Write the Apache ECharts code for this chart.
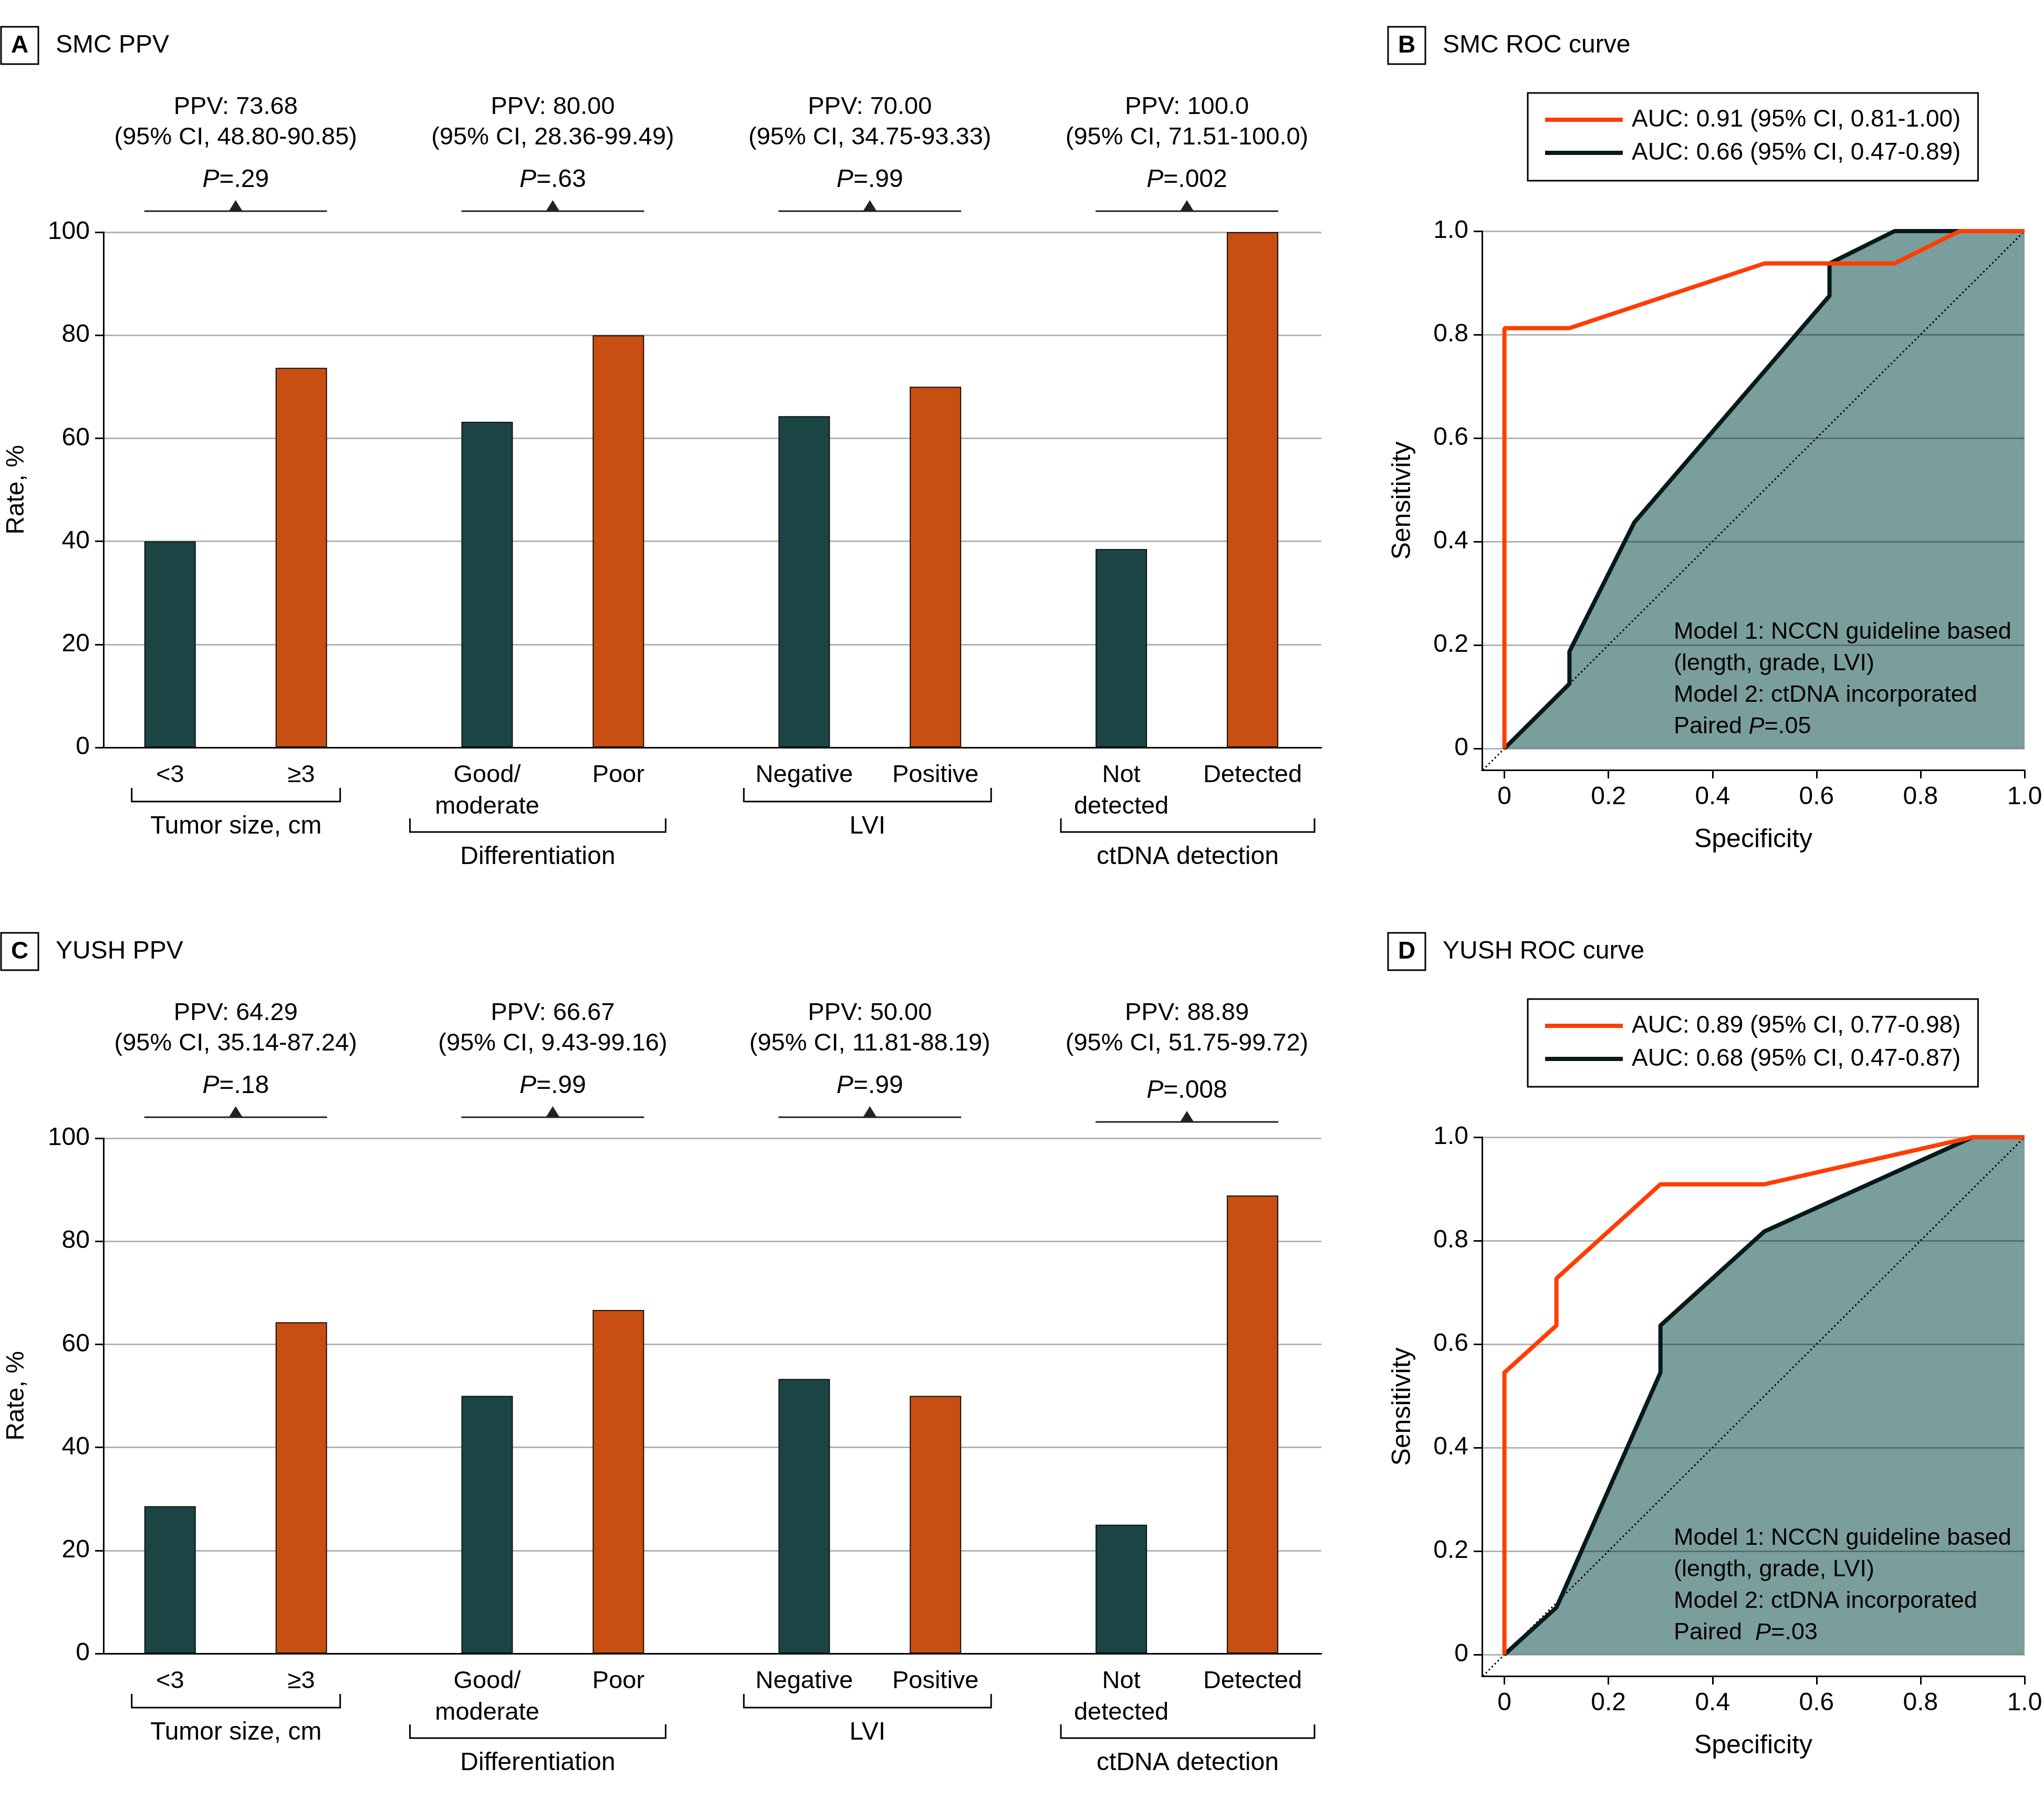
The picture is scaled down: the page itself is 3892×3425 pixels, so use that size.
<!DOCTYPE html>
<html>
<head>
<meta charset="utf-8">
<title>SMC / YUSH PPV and ROC curves</title>
<script src="https://cdn.jsdelivr.net/npm/echarts@6/dist/echarts.min.js"></script>
<style>
  html, body { margin: 0; padding: 0; background: #fff; }
  #chart { width: 3892px; height: 3425px; }
</style>
</head>
<body>
<div id="chart"></div>
<script>
// ---------- data ----------
const lowLabels = ['<3', 'Good/\nmoderate', 'Negative', 'Not\ndetected']
const highLabels = ['≥3', 'Poor', 'Positive', 'Detected']
const groupNames = ['Tumor size, cm', 'Differentiation', 'LVI', 'ctDNA detection']

const smcLow = [40.0, 63.2, 64.3, 38.5]
const smcHigh = [73.68, 80.0, 70.0, 100.0]
const smcPpv = ['73.68', '80.00', '70.00', '100.0']
const smcCi = ['48.80-90.85', '28.36-99.49', '34.75-93.33', '71.51-100.0']
const smcP = ['.29', '.63', '.99', '.002']

const yushLow = [28.6, 50.0, 53.3, 25.0]
const yushHigh = [64.29, 66.67, 50.0, 88.89]
const yushPpv = ['64.29', '66.67', '50.00', '88.89']
const yushCi = ['35.14-87.24', '9.43-99.16', '11.81-88.19', '51.75-99.72']
const yushP = ['.18', '.99', '.99', '.008']

const rocTicks = [0, 0.2, 0.4, 0.6, 0.8, 1.0]

// [specificity axis, sensitivity]
const smcModel1 = [[0, 0], [0.125, 0.125], [0.125, 0.1875], [0.25, 0.4375], [0.625, 0.875], [0.625, 0.9375], [0.75, 1], [1, 1]]
const smcModel2 = [[0, 0], [0, 0.8125], [0.125, 0.8125], [0.5, 0.9375], [0.75, 0.9375], [0.875, 1], [1, 1]]
const yushModel1 = [[0, 0], [0.1, 0.091], [0.3, 0.545], [0.3, 0.636], [0.5, 0.818], [0.9, 1], [1, 1]]
const yushModel2 = [[0, 0], [0, 0.545], [0.1, 0.636], [0.1, 0.727], [0.3, 0.909], [0.5, 0.909], [0.9, 1], [1, 1]]

const smcAuc = ['AUC: 0.91 (95% CI, 0.81-1.00)', 'AUC: 0.66 (95% CI, 0.47-0.89)']
const yushAuc = ['AUC: 0.89 (95% CI, 0.77-0.98)', 'AUC: 0.68 (95% CI, 0.47-0.87)']

// ---------- style / layout ----------
const FONT = '"Liberation Sans", Arial, sans-serif'
const DARK = '#1b4545'
const ORANGE = '#c84e11'
const ROC_ORANGE = '#ff3d00'
const ROC_DARK = '#061a19'
const ROC_FILL = '#7a9e9c'
const PANEL_DY = 1725
const BAR_W = 98
const BAR_GAP = 1.55
const BAR_OFF = BAR_W * (1 + BAR_GAP) / 2
const ROC_XMIN = -0.043
const ROC_YMIN = -0.0416
// bracket ends relative to the two bar centres of each group
const BRACKET_PAD = [[-73, 74], [-147, 90], [-115, 106], [-115, 118]]

const txt = (size, extra) => Object.assign({ fontSize: size, fontFamily: FONT, color: '#000' }, extra || {})

const barX = (gi) => ({
  type: 'value', gridIndex: gi, min: -0.417, max: 3.424, z: 3,
  axisLine: { show: true, lineStyle: { color: '#000', width: 3 } },
  axisTick: { show: false }, axisLabel: { show: false }, splitLine: { show: false }
})
const barY = (gi) => ({
  type: 'value', gridIndex: gi, min: 0, max: 100, interval: 20,
  name: 'Rate, %', nameLocation: 'middle', nameGap: 141, nameTextStyle: txt(48),
  axisLine: { show: true, onZero: false, lineStyle: { color: '#000', width: 3 } },
  axisTick: { show: true, length: 16, lineStyle: { color: '#000', width: 3 } },
  axisLabel: txt(48, { margin: 26 }),
  splitLine: { show: true, lineStyle: { color: '#b3b3b3', width: 3 } }
})
const rocLabel = (v) => (v === 0 ? '0' : v.toFixed(1))
const rocX = (gi) => ({
  type: 'value', gridIndex: gi, min: ROC_XMIN, max: 1, z: 2.5,
  name: 'Specificity', nameLocation: 'middle', nameGap: 108, nameTextStyle: txt(50),
  axisLine: { show: true, onZero: false, lineStyle: { color: '#000', width: 3 } },
  axisTick: { show: true, length: 16, customValues: rocTicks, lineStyle: { color: '#000', width: 3 } },
  axisLabel: txt(48, { margin: 28, customValues: rocTicks, formatter: rocLabel }),
  splitLine: { show: false }
})
const rocY = (gi) => ({
  type: 'value', gridIndex: gi, min: ROC_YMIN, max: 1, z: 2,
  name: 'Sensitivity', nameLocation: 'middle', nameGap: 126, nameTextStyle: txt(50),
  axisLine: { show: true, onZero: false, lineStyle: { color: '#000', width: 3 } },
  axisTick: { show: true, length: 16, customValues: rocTicks, lineStyle: { color: '#000', width: 3 } },
  axisLabel: txt(48, { margin: 26, customValues: rocTicks, formatter: rocLabel }),
  splitLine: { show: true, lineStyle: { color: 'rgba(0,0,0,0.3)', width: 3 } }
})

const barSeries = (ai, values, names, color) => ({
  type: 'bar', xAxisIndex: ai, yAxisIndex: ai,
  data: values.map((v, i) => [i, v]),
  barWidth: BAR_W, barGap: (BAR_GAP * 100) + '%',
  itemStyle: { color: color, borderColor: '#111', borderWidth: 2 },
  label: {
    show: true, position: 'bottom', distance: 23, lineHeight: 60,
    fontSize: 47, fontFamily: FONT, color: '#000',
    formatter: (p) => names[p.dataIndex]
  }
})
const rocSeries = (ai, model1, model2, auc) => [
  { type: 'line', name: 'fill' + ai, xAxisIndex: ai, yAxisIndex: ai, data: model1, symbol: 'none',
    lineStyle: { width: 0 }, areaStyle: { color: ROC_FILL, opacity: 1 }, z: 1, silent: true },
  { type: 'line', name: 'chance' + ai, xAxisIndex: ai, yAxisIndex: ai,
    data: [[ROC_YMIN, ROC_YMIN], [1, 1]], symbol: 'none',
    lineStyle: { color: '#000', width: 3, type: [3, 5] }, z: 3, silent: true },
  { type: 'line', name: auc[1], xAxisIndex: ai, yAxisIndex: ai, data: model1, symbol: 'none',
    itemStyle: { color: ROC_DARK }, lineStyle: { color: ROC_DARK, width: 8 }, z: 4 },
  { type: 'line', name: auc[0], xAxisIndex: ai, yAxisIndex: ai, data: model2, symbol: 'none',
    itemStyle: { color: ROC_ORANGE }, lineStyle: { color: ROC_ORANGE, width: 8 }, z: 5 }
]
const rocLegend = (top, names) => ({
  left: 2909, top: top, orient: 'vertical', selectedMode: false,
  data: names, icon: 'rect', itemWidth: 148, itemHeight: 8, itemGap: 17,
  padding: [28, 33, 30, 33], borderColor: '#000', borderWidth: 3,
  textStyle: txt(46, { padding: [0, 0, 0, 12] })
})

const chart = echarts.init(document.getElementById('chart'))
chart.setOption({
  animation: false,
  backgroundColor: '#fff',
  grid: [
    { left: 196, top: 442, width: 2320, height: 981 },
    { left: 2822, top: 440, width: 1033, height: 1026 },
    { left: 196, top: 442 + PANEL_DY, width: 2320, height: 981 },
    { left: 2822, top: 440 + PANEL_DY, width: 1033, height: 1026 }
  ],
  xAxis: [barX(0), rocX(1), barX(2), rocX(3)],
  yAxis: [barY(0), rocY(1), barY(2), rocY(3)],
  legend: [rocLegend(177, smcAuc), rocLegend(177 + PANEL_DY, yushAuc)],
  series: [
    barSeries(0, smcLow, lowLabels, DARK),
    barSeries(0, smcHigh, highLabels, ORANGE),
    barSeries(2, yushLow, lowLabels, DARK),
    barSeries(2, yushHigh, highLabels, ORANGE),
    ...rocSeries(1, smcModel1, smcModel2, smcAuc),
    ...rocSeries(3, yushModel1, yushModel2, yushAuc)
  ]
})

// ---------- annotations placed from the axes ----------
const els = []
const text = (x, y, str, size, extra) => els.push({
  type: 'text', x: x, y: y, z: 100,
  style: Object.assign({ text: str, fontSize: size, fontFamily: FONT, fill: '#000',
    align: 'center', verticalAlign: 'middle' }, extra || {})
})
const richP = (size) => ({
  n: { fontSize: size, fontFamily: FONT, fill: '#000' },
  i: { fontSize: size, fontFamily: FONT, fill: '#000', fontStyle: 'italic' }
})
const panelLabel = (x, y, letter, title) => {
  els.push({ type: 'rect', z: 100, shape: { x: x, y: y, width: 71, height: 71 },
    style: { fill: 'none', stroke: '#000', lineWidth: 3 } })
  text(x + 35.5, y + 36, letter, 46, { fontWeight: 'bold' })
  text(x + 104, y + 36, title, 48, { align: 'left' })
}

const barPanels = [
  { ai: 0, letter: 'A', title: 'SMC PPV', ppv: smcPpv, ci: smcCi, p: smcP, shift: [0, 0, 0, 0] },
  { ai: 2, letter: 'C', title: 'YUSH PPV', ppv: yushPpv, ci: yushCi, p: yushP, shift: [0, 0, 0, 9] }
]
barPanels.forEach((bp) => {
  const finder = { xAxisIndex: bp.ai, yAxisIndex: bp.ai }
  const yTop = chart.convertToPixel(finder, [0, 100])[1]
  const yBase = chart.convertToPixel(finder, [0, 0])[1]
  panelLabel(2, yTop - 391, bp.letter, bp.title)
  groupNames.forEach((gname, i) => {
    const cx = chart.convertToPixel(finder, [i, 0])[0]
    const lx = cx - BAR_OFF
    const rx = cx + BAR_OFF
    const s = bp.shift[i]
    text(cx, yTop - 209, 'PPV: ' + bp.ppv[i] + '\n(95% CI, ' + bp.ci[i] + ')', 47, { lineHeight: 58 })
    text(cx, yTop - 99 + s, '{i|P}{n|=' + bp.p[i] + '}', 48, { rich: richP(48) })
    const yl = yTop - 40 + s
    els.push({ type: 'line', z: 100, shape: { x1: lx - BAR_W / 2, y1: yl, x2: rx + BAR_W / 2, y2: yl },
      style: { stroke: '#222', lineWidth: 3 } })
    els.push({ type: 'polygon', z: 100, shape: { points: [[cx - 13, yl], [cx, yl - 21], [cx + 13, yl]] },
      style: { fill: '#222' } })
    const twoLine = lowLabels[i].includes('\n') || highLabels[i].includes('\n')
    const by = yBase + (twoLine ? 135 : 77)
    const bl = lx + BRACKET_PAD[i][0]
    const br = rx + BRACKET_PAD[i][1]
    els.push({ type: 'polyline', z: 100,
      shape: { points: [[bl, by], [bl, by + 26], [br, by + 26], [br, by]] },
      style: { fill: null, stroke: '#000', lineWidth: 3 } })
    text((bl + br) / 2, by + 74, gname, 48)
  })
})

const rocPanels = [
  { dy: 0, letter: 'B', title: 'SMC ROC curve', paired: 'Paired ', pval: '=.05' },
  { dy: PANEL_DY, letter: 'D', title: 'YUSH ROC curve', paired: 'Paired  ', pval: '=.03' }
]
rocPanels.forEach((rp) => {
  panelLabel(2643, 51 + rp.dy, rp.letter, rp.title)
  const rich = richP(45)
  rich.n.lineHeight = 60
  rich.i.lineHeight = 60
  text(3187, 1174 + rp.dy,
    '{n|Model 1: NCCN guideline based}\n{n|(length, grade, LVI)}\n{n|Model 2: ctDNA incorporated}\n' +
    '{n|' + rp.paired + '}{i|P}{n|' + rp.pval + '}',
    45, { align: 'left', verticalAlign: 'top', rich: rich, lineHeight: 60 })
})

chart.setOption({ graphic: { elements: els } })
</script>
</body>
</html>
